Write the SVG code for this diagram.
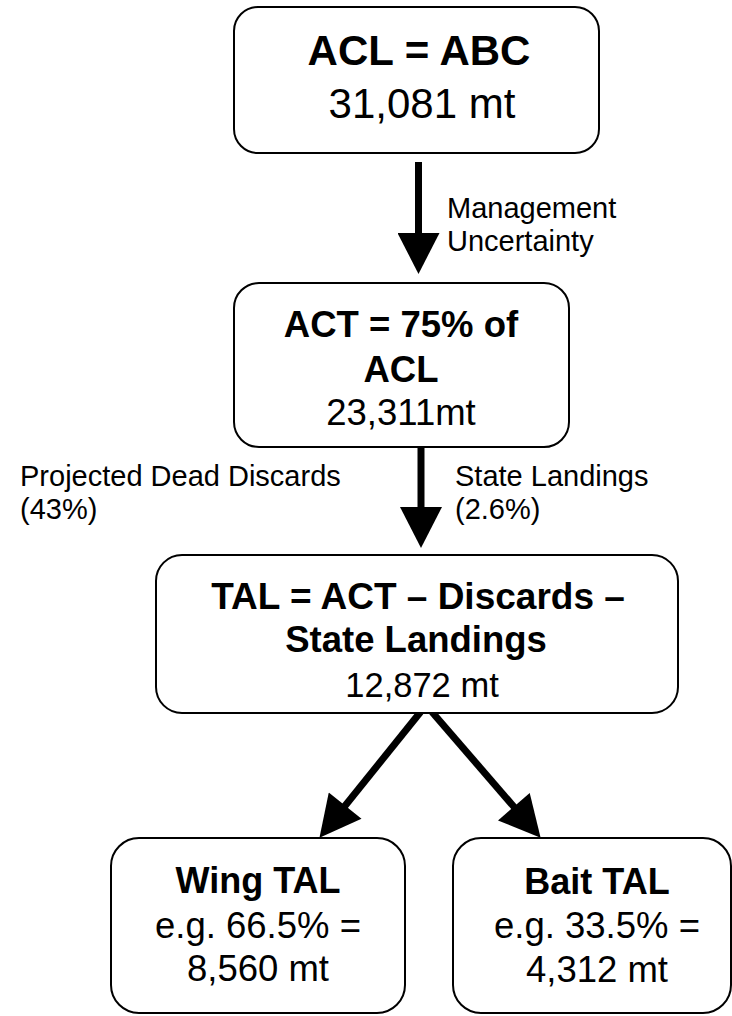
<svg xmlns="http://www.w3.org/2000/svg" width="732" height="1016" viewBox="0 0 732 1016">
<defs>
<style>
.box{fill:#fff;stroke:#000;stroke-width:2}
.t{font-family:"Liberation Sans",Arial,sans-serif;fill:#000;text-anchor:middle}
.b{font-weight:bold}
.lbl{font-family:"Liberation Sans",Arial,sans-serif;fill:#000;font-size:29px}
.arr{stroke:#000;stroke-width:7;fill:none;marker-end:url(#ah)}
</style>
<marker id="ah" markerUnits="userSpaceOnUse" markerWidth="42" markerHeight="42" viewBox="0 0 40 41" refX="1" refY="20.5" orient="auto">
<path d="M0,0 L40,20.5 L0,41 Z" fill="#000"/>
</marker>
</defs>
<rect width="732" height="1016" fill="#fff"/>
<g id="connectors">
<line class="arr" x1="418.5" y1="162" x2="418.5" y2="234"/>
<line class="arr" x1="421" y1="437" x2="421" y2="508"/>
<line class="arr" x1="420.5" y1="712" x2="344.5" y2="806.5"/>
<line class="arr" x1="432" y1="712" x2="514.5" y2="807.5"/>
</g>
<g id="lbl-mu">
<text class="lbl" x="447" y="218">Management</text>
<text class="lbl" x="447" y="251">Uncertainty</text>
</g>
<g id="lbl-dd">
<text class="lbl" x="20" y="486">Projected Dead Discards</text>
<text class="lbl" x="20" y="519">(43%)</text>
</g>
<g id="lbl-sl">
<text class="lbl" x="455" y="486">State Landings</text>
<text class="lbl" x="455" y="519">(2.6%)</text>
</g>
<g id="acl">
<rect class="box" x="234" y="7" width="365" height="146" rx="24"/>
<text class="t b" x="419" y="65" font-size="42">ACL = ABC</text>
<text class="t" x="422" y="118" font-size="42">31,081 mt</text>
</g>
<g id="act">
<rect class="box" x="234" y="283" width="335" height="164" rx="25"/>
<text class="t b" x="401" y="337" font-size="36.5">ACT = 75% of</text>
<text class="t b" x="401" y="382" font-size="36.5">ACL</text>
<text class="t" x="401" y="425" font-size="36.5">23,311mt</text>
</g>
<g id="tal">
<rect class="box" x="156" y="555" width="522" height="158" rx="26"/>
<text class="t b" x="418" y="609" font-size="37">TAL = ACT – Discards –</text>
<text class="t b" x="416" y="652" font-size="36.5">State Landings</text>
<text class="t" x="422" y="697" font-size="34.5">12,872 mt</text>
</g>
<g id="wing">
<rect class="box" x="111" y="838" width="294" height="175" rx="28"/>
<text class="t b" x="258" y="893" font-size="36">Wing TAL</text>
<text class="t" x="258" y="938" font-size="36.5">e.g. 66.5% =</text>
<text class="t" x="258" y="981" font-size="36.5">8,560 mt</text>
</g>
<g id="bait">
<rect class="box" x="453" y="838" width="278" height="175" rx="28"/>
<text class="t b" x="597" y="894" font-size="36">Bait TAL</text>
<text class="t" x="597" y="938" font-size="36.5">e.g. 33.5% =</text>
<text class="t" x="597" y="982" font-size="36.5">4,312 mt</text>
</g>
</svg>
